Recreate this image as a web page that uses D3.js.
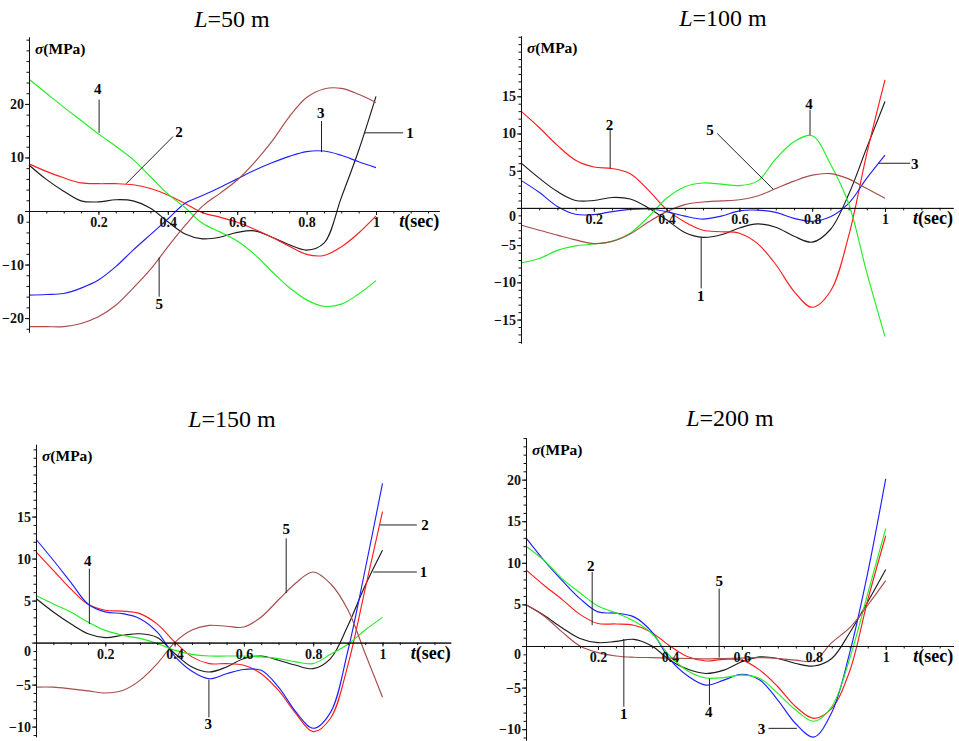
<!DOCTYPE html>
<html>
<head>
<meta charset="utf-8">
<script src="https://cdn.jsdelivr.net/npm/d3@7"></script>
<style>
body { margin: 0; background: #fff; }
svg text { font-family: 'Liberation Serif', 'Times New Roman', serif; }
</style>
</head>
<body>
<svg id="chartSVG"></svg>
<script>
var chartWidth = 959
var chartHeight = 741

// time samples (sec)
var tValues = [0, 0.05, 0.1, 0.15, 0.2, 0.25, 0.3, 0.35, 0.4, 0.45, 0.5, 0.55, 0.6, 0.65, 0.7, 0.75, 0.8, 0.85, 0.9, 0.95, 1]

// curve colours, curves 1..5
var curveColors = ['#1c1c1c', '#ff1c1c', '#2020ff', '#22ee22', '#a84c4c']
var panelLengths = ['50', '100', '150', '200']

// sigma (MPa) per curve, L = 50 m
var sigmaL50 = [
    [8.6, 5.9, 3.7, 1.9, 1.7, 2.1, 1.9, 0.5, -2.0, -4.3, -5.2, -4.9, -4.0, -3.7, -4.9, -6.3, -7.3, -6.0, 2.5, 11.3, 21.4],
    [8.8, 7.4, 6.2, 5.25, 5.1, 5.1, 4.9, 4.2, 3.0, 1.4, -0.3, -1.15, -2.1, -3.4, -4.9, -6.6, -8.1, -8.3, -6.7, -4.1, -0.9],
    [-15.7, -15.6, -15.4, -14.4, -12.9, -10.4, -7.3, -4.4, -1.5, 1.45, 2.9, 4.4, 6.0, 7.6, 9.0, 10.2, 11.1, 11.2, 10.4, 9.2, 8.1],
    [24.6, 22.0, 19.4, 16.9, 14.4, 12.1, 9.6, 6.4, 3.2, 0.6, -2.3, -3.9, -5.6, -8.1, -11.3, -14.3, -16.6, -17.8, -17.4, -15.5, -13.0],
    [-21.6, -21.6, -21.6, -21.0, -19.75, -17.6, -14.4, -10.9, -6.7, -2.7, 0.9, 3.3, 5.8, 9.1, 13.0, 17.6, 21.2, 22.8, 22.9, 21.8, 20.25]
]
// L = 100 m
var sigmaL100 = [
    [6.05, 4.0, 2.2, 1.0, 1.0, 1.4, 1.2, 0.0, -1.6, -3.3, -3.95, -3.6, -2.7, -2.15, -2.6, -3.8, -4.6, -2.9, 1.8, 8.1, 14.3],
    [13.0, 10.8, 8.4, 6.4, 5.5, 5.3, 4.6, 2.4, -0.2, -1.9, -3.0, -3.2, -3.4, -4.8, -7.6, -11.2, -13.35, -11.2, -3.8, 7.3, 17.2],
    [3.7, 2.1, 0.2, -0.85, -0.9, -0.5, -0.2, -0.15, -0.5, -1.1, -1.5, -1.1, -0.4, -0.3, -0.6, -1.4, -1.8, -1.2, 0.6, 4.0, 7.1],
    [-7.4, -6.8, -5.7, -5.1, -4.85, -4.5, -3.4, -1.2, 1.3, 2.85, 3.35, 3.2, 3.0, 3.6, 6.6, 8.9, 9.7, 5.9, 0.6, -8.7, -17.3],
    [-2.3, -3.0, -3.65, -4.3, -4.8, -4.5, -3.5, -1.9, -0.5, 0.45, 0.8, 0.95, 1.1, 1.6, 2.6, 3.6, 4.4, 4.6, 3.9, 2.6, 1.3]
]
// L = 150 m
var sigmaL150 = [
    [5.25, 3.65, 2.25, 1.05, 0.6, 0.87, 1.05, 0.6, -1.3, -2.9, -3.5, -2.9, -1.9, -1.6, -2.1, -2.7, -3.1, -1.9, 2.0, 6.8, 11.0],
    [10.8, 8.6, 6.4, 4.55, 3.85, 3.75, 3.45, 2.2, 0.1, -1.7, -2.5, -2.5, -2.7, -3.7, -5.7, -8.45, -10.6, -9.0, -2.7, 6.4, 15.6],
    [12.3, 9.8, 7.2, 4.6, 3.65, 3.45, 2.85, 1.25, -1.6, -3.4, -4.3, -3.7, -3.2, -3.3, -5.3, -8.25, -10.2, -8.3, -1.0, 8.7, 18.95],
    [5.6, 4.6, 3.65, 2.45, 1.45, 0.87, 0.5, -0.1, -0.9, -1.4, -1.6, -1.6, -1.6, -1.7, -1.9, -2.3, -2.5, -1.4, -0.2, 1.5, 3.0],
    [-5.3, -5.3, -5.5, -5.75, -6.0, -5.7, -4.5, -2.5, 0.0, 1.5, 2.05, 1.95, 1.85, 3.05, 5.1, 7.1, 8.4, 7.0, 3.9, -1.3, -6.5]
]
// L = 200 m
var sigmaL200 = [
    [4.95, 3.7, 2.2, 0.9, 0.4, 0.55, 0.8, 0.0, -1.7, -2.8, -3.3, -2.9, -1.9, -1.3, -1.5, -2.1, -2.4, -1.5, 1.6, 5.3, 9.2],
    [9.15, 7.3, 5.6, 3.8, 2.7, 2.65, 2.5, 1.6, 0.0, -1.3, -1.8, -1.6, -1.7, -2.9, -4.9, -7.3, -8.7, -7.5, -3.0, 5.5, 13.25],
    [13.0, 10.3, 7.9, 5.7, 4.1, 3.95, 3.5, 1.7, -1.6, -3.6, -4.7, -4.1, -3.4, -4.1, -6.5, -9.35, -10.95, -8.0, -0.8, 8.8, 20.1],
    [12.0, 10.3, 8.1, 6.4, 4.8, 4.0, 3.0, 1.5, -1.2, -3.0, -3.85, -3.8, -3.5, -3.9, -5.7, -7.7, -9.05, -7.3, -1.5, 6.3, 14.1],
    [4.95, 3.6, 1.7, 0.0, -0.8, -1.2, -1.35, -1.4, -1.45, -1.5, -1.55, -1.5, -1.45, -1.4, -1.5, -1.7, -1.8, 0.4, 2.2, 4.9, 7.85]
]

// y tick values
var yMajorL50 = [-20, -10, 0, 10, 20]
var yMajorL100 = [-15, -10, -5, 0, 5, 10, 15]
var yMajorL150 = [-10, -5, 0, 5, 10, 15]
var yMajorL200 = [-10, -5, 0, 5, 10, 15, 20]
var xMajorTicks = [0.2, 0.4, 0.6, 0.8, 1]

// curve number callouts: [label, text t, text sigma, line t1, sigma1, t2, sigma2]
var calloutsL50 = [
    ['4', 0.198, 22.9, 0.202, 20.8, 0.202, 14.6],
    ['2', 0.432, 14.8, 0.415, 13.9, 0.28, 5.1],
    ['3', 0.841, 18.3, 0.843, 16.8, 0.843, 11.0],
    ['1', 1.098, 14.6, 0.968, 14.6, 1.078, 14.6],
    ['5', 0.375, -17.3, 0.375, -8.7, 0.375, -16.0]
]
var calloutsL100 = [
    ['2', 0.243, 11.2, 0.245, 10.5, 0.245, 5.3],
    ['5', 0.519, 10.5, 0.539, 10.0, 0.693, 2.5],
    ['4', 0.791, 14.0, 0.794, 13.2, 0.794, 9.8],
    ['3', 1.082, 6.0, 0.982, 6.0, 1.069, 6.0],
    ['1', 0.494, -11.8, 0.495, -3.9, 0.495, -10.8]
]
var calloutsL150 = [
    ['5', 0.722, 13.6, 0.722, 12.4, 0.722, 5.9],
    ['4', 0.149, 9.8, 0.154, 8.8, 0.154, 2.2],
    ['2', 1.123, 14.0, 0.993, 14.0, 1.099, 14.0],
    ['1', 1.118, 8.4, 0.973, 8.4, 1.099, 8.4],
    ['3', 0.497, -9.6, 0.499, -4.4, 0.499, -8.9]
]
var calloutsL200 = [
    ['2', 0.18, 9.7, 0.184, 8.9, 0.184, 2.5],
    ['5', 0.537, 7.8, 0.537, 6.9, 0.537, -1.4],
    ['1', 0.272, -8.1, 0.272, 0.85, 0.272, -7.3],
    ['4', 0.508, -7.9, 0.51, -3.9, 0.51, -7.1],
    ['3', 0.655, -9.9, 0.674, -9.9, 0.753, -9.9]
]

// panel placement (pixels) and axis extents
var panels = [
    { x0: 29, x1: 376, tMax: 1.182, yTop: 37, yBottom: 332, yMax: 32.5, yMin: -22.6, minorStep: 2, titleX: 232, titleY: 27,
      series: sigmaL50, yMajor: yMajorL50, callouts: calloutsL50 },
    { x0: 521, x1: 885, tMax: 1.187, yTop: 36, yBottom: 343, yMax: 23.1, yMin: -18.15, minorStep: 1, titleX: 723, titleY: 26,
      series: sigmaL100, yMajor: yMajorL100, callouts: calloutsL100 },
    { x0: 36, x1: 382.5, tMax: 1.197, yTop: 444.3, yBottom: 736.7, yMax: 23.6, yMin: -11.2, minorStep: 1, titleX: 232, titleY: 427,
      series: sigmaL150, yMajor: yMajorL150, callouts: calloutsL150 },
    { x0: 526, x1: 885.7, tMax: 1.188, yTop: 437.7, yBottom: 740, yMax: 25.04, yMin: -11.3, minorStep: 1, titleX: 730, titleY: 426,
      series: sigmaL200, yMajor: yMajorL200, callouts: calloutsL200 }
]

var serifFont = "'Liberation Serif', 'Times New Roman', serif"

var chartSVG = d3.select('#chartSVG')
    .attr('width', chartWidth)
    .attr('height', chartHeight)

function drawPanel(p, idx) {
    var xScale = d3.scaleLinear().domain([0, 1]).range([p.x0, p.x1])
    var yScale = d3.scaleLinear().domain([p.yMin, p.yMax]).range([p.yBottom, p.yTop])
    var layer = chartSVG.append('g')

    // title
    var title = layer.append('text')
        .attr('x', p.titleX)
        .attr('y', p.titleY)
        .attr('text-anchor', 'middle')
        .style('font-size', '24px')
    title.append('tspan').style('font-style', 'italic').text('L')
    title.append('tspan').text('=' + panelLengths[idx] + ' m')

    // curves
    var line = d3.line()
        .x(function (d, i) { return xScale(tValues[i]) })
        .y(function (d) { return yScale(d) })
        .curve(d3.curveCatmullRom.alpha(0.5))
    layer.selectAll('path.curve')
        .data(p.series)
        .enter()
        .append('path')
        .attr('class', 'curve')
        .attr('fill', 'none')
        .attr('stroke', function (d, i) { return curveColors[i] })
        .attr('stroke-width', 1.15)
        .attr('d', line)

    // y axis: minor then major
    var yMinor = d3.range(Math.ceil(p.yMin / p.minorStep) * p.minorStep, p.yMax, p.minorStep)
    layer.append('g')
        .attr('transform', 'translate(' + p.x0 + ',0)')
        .call(d3.axisLeft(yScale).tickValues(yMinor).tickSize(2.5).tickSizeOuter(0).tickFormat(''))
    var yAxisG = layer.append('g')
        .attr('transform', 'translate(' + p.x0 + ',0)')
        .call(d3.axisLeft(yScale).tickValues(p.yMajor).tickSize(4).tickSizeOuter(0).tickPadding(1).tickFormat(d3.format('d')))
    yAxisG.selectAll('text')
        .filter(function (d) { return d === 0 })
        .attr('dy', '0.9em')

    // x axis: minor then major, at sigma = 0
    var xTop = yScale(0)
    var xAxisScale = d3.scaleLinear().domain([0, p.tMax]).range([p.x0, xScale(p.tMax)])
    var xMinor = d3.range(0.05, p.tMax, 0.05)
    layer.append('g')
        .attr('transform', 'translate(0,' + xTop + ')')
        .call(d3.axisBottom(xAxisScale).tickValues(xMinor).tickSize(2.5).tickSizeOuter(0).tickFormat(''))
    layer.append('g')
        .attr('transform', 'translate(0,' + xTop + ')')
        .call(d3.axisBottom(xAxisScale).tickValues(xMajorTicks).tickSize(4).tickSizeOuter(0).tickPadding(2).tickFormat(d3.format('')))

    layer.selectAll('g').attr('font-family', serifFont)
    layer.selectAll('.domain, .tick line').attr('stroke', '#111')
    layer.selectAll('.tick text')
        .attr('fill', '#111')
        .style('font-family', serifFont)
        .style('font-size', '14px')
        .style('font-weight', 'bold')

    // axis titles
    var sigmaLabel = layer.append('text')
        .attr('x', p.x0 + 6)
        .attr('y', p.yTop + 17)
        .style('font-size', '15.5px')
        .style('font-weight', 'bold')
    sigmaLabel.append('tspan').style('font-style', 'italic').text('σ')
    sigmaLabel.append('tspan').text('(MPa)')

    var tLabel = layer.append('text')
        .attr('x', xScale(p.tMax))
        .attr('y', xTop + 16)
        .attr('text-anchor', 'end')
        .style('font-size', '18px')
        .style('font-weight', 'bold')
    tLabel.append('tspan').style('font-style', 'italic').text('t')
    tLabel.append('tspan').text('(sec)')

    // curve number callouts
    p.callouts.forEach(function (c) {
        layer.append('line')
            .attr('x1', xScale(c[3])).attr('y1', yScale(c[4]))
            .attr('x2', xScale(c[5])).attr('y2', yScale(c[6]))
            .attr('stroke', '#222')
            .attr('stroke-width', 1)
        layer.append('text')
            .attr('x', xScale(c[1]))
            .attr('y', yScale(c[2]))
            .attr('dy', '0.35em')
            .attr('text-anchor', 'middle')
            .style('font-size', '15px')
            .style('font-weight', 'bold')
            .text(c[0])
    })
}

panels.forEach(drawPanel)
</script>
</body>
</html>
